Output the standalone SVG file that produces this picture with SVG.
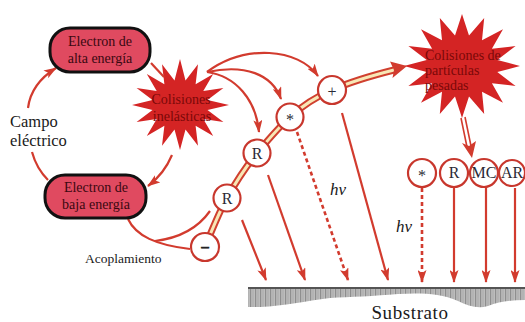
<svg xmlns="http://www.w3.org/2000/svg" width="525" height="322" viewBox="0 0 525 322">
  <defs>
    <marker id="arr" viewBox="0 0 13 9" markerWidth="13" markerHeight="9" refX="12" refY="4.5" orient="auto" markerUnits="userSpaceOnUse">
      <path d="M0,0 L13,4.5 L0,9 L3,4.5 Z" fill="#d23b2e"/>
    </marker>
    <pattern id="stripes" width="5" height="10" patternUnits="userSpaceOnUse">
      <rect width="5" height="10" fill="#bdbdbd"/>
      <rect x="0" width="1.2" height="10" fill="#8e8e8e"/>
      <rect x="2.6" width="0.8" height="10" fill="#a4a4a4"/>
    </pattern>
  </defs>
  <style>
    .t { font-family: "Liberation Serif", "Times New Roman", serif; }
    .node rect { fill: #e04a60; stroke: #111; stroke-width: 3; }
    .node text { fill: #3a0810; font-size: 14px; text-anchor: middle; }
    .star polygon { fill: #d42424; }
    .star text { fill: #7a0808; font-size: 14px; }
    .ln { fill: none; stroke: #d23b2e; stroke-width: 2.2; }
    .dash { stroke-dasharray: 4 3; stroke-width: 2.6; }
    .part circle { fill: #fff; stroke: #c8372d; stroke-width: 2.2; }
    .part text { fill: #2a2a35; font-size: 16px; text-anchor: middle; }
    .lbl { fill: #1a1a1a; }
  </style>

  <rect width="525" height="322" fill="#fff"/>

  <!-- substrate -->
  <g id="substrato">
    <path d="M248,288 L525,288 L525,300 C512,300 500,301 488,306 C478,309 468,306 458,301 C440,293 420,293 398,294 C375,296 350,297 330,298 C305,301 285,306 260,307 L248,307 Z" fill="url(#stripes)"/>
    <line x1="248" y1="288" x2="525" y2="288" stroke="#555" stroke-width="2"/>
    <text class="t lbl" x="410" y="319" font-size="19" text-anchor="middle" letter-spacing="0.6">Substrato</text>
  </g>

  <!-- stars -->
  <g id="colisiones-inelasticas" class="star">
    <polygon points="180,59 185.5,80.5 198,64.3 195.6,84.2 213.2,73.9 203.3,91.1 223.4,88.1 207.5,100.1 229,105 207.5,109.9 223.4,121.9 203.3,118.9 213.2,136.1 195.6,125.8 198,145.7 185.5,129.5 180,150 174.5,129.5 162,145.7 164.4,125.8 146.8,136.1 156.7,118.9 136.6,121.9 152.5,109.9 132,105 152.5,100.1 136.6,88.1 156.7,91.1 146.8,73.9 164.4,84.2 162,64.3 174.5,80.5"/>
    <text class="t" x="181" y="104" text-anchor="middle">Colisiones</text>
    <text class="t" x="182" y="121" text-anchor="middle">inelásticas</text>
  </g>

  <g id="colisiones-pesadas" class="star">
    <polygon points="462,14 469,35.6 484.2,18 482,40.2 503,29.2 491.9,48.8 515.6,46.1 497.3,60 520,66 497.3,72 515.6,85.9 491.9,83.2 503,102.8 482,91.8 484.2,114 469,96.4 462,118 455,96.4 439.8,114 442,91.8 421,102.8 432.1,83.2 408.4,85.9 426.7,72 404,66 426.7,60 408.4,46.1 432.1,48.8 421,29.2 442,40.2 439.8,18 455,35.6"/>
    <text class="t" x="425" y="60" font-size="13">Colisiones de</text>
    <text class="t" x="425" y="75" font-size="13">partículas</text>
    <text class="t" x="425" y="90" font-size="13">pesadas</text>
  </g>

  <!-- connectors -->
  <g id="connectors">
    <!-- electric field cycle -->
    <path class="ln" d="M28,108 C30,92 40,78 56,68" marker-end="url(#arr)"/>
    <path class="ln" d="M32,152 C35,163 40,172 48,180"/>
    <path class="ln" d="M151,63 L164,77"/>
    <path class="ln" d="M172,155 C167,167 160,177 148,186" marker-end="url(#arr)"/>
    <!-- coupling -->
    <path class="ln" d="M128,219 C136,236 156,245 190,249"/>
    <path class="ln" d="M155,241 C180,238 198,228 210,211"/>
    <!-- excitation from inelastic collisions -->
    <path class="ln" d="M207,72 C245,44 298,48 318,76" marker-end="url(#arr)"/>
    <path class="ln" d="M207,72 C245,64 272,74 281,99" marker-end="url(#arr)"/>
    <path class="ln" d="M207,72 C236,76 256,100 259,132" marker-end="url(#arr)"/>
    <!-- particle chain ribbon -->
    <path d="M205,247 C212,230 220,210 227,198 C238,178 245,168 257,153 C268,140 278,128 290,117 C302,106 318,96 332,90 C350,82 370,76 394,70" fill="none" stroke="#d0402f" stroke-width="7"/>
    <path d="M205,247 C212,230 220,210 227,198 C238,178 245,168 257,153 C268,140 278,128 290,117 C302,106 318,96 332,90 C350,82 370,76 394,70" fill="none" stroke="#f8e7b5" stroke-width="3"/>
    <path d="M407,66 L390,61.5 L394,70 L392.5,78 Z" fill="#d23b2e"/>
    <!-- heavy collision products -->
    <path d="M461,118 L467,147 M465,117 L471,146" fill="none" stroke="#d23b2e" stroke-width="1.6"/>
    <path d="M472,158 L462,143 L469,146 L476,141 Z" fill="#d23b2e"/>
    <!-- fluxes to substrate -->
    <path class="ln" d="M242,220 L266,280" marker-end="url(#arr)"/>
    <path class="ln" d="M268,175 L305,280" marker-end="url(#arr)"/>
    <path class="ln dash" d="M297,132 L348,280" marker-end="url(#arr)"/>
    <path class="ln" d="M342,113 L388,280" marker-end="url(#arr)"/>
    <path class="ln dash" d="M422,188 L422,282" marker-end="url(#arr)"/>
    <path class="ln" d="M454,188 L454,282" marker-end="url(#arr)"/>
    <path class="ln" d="M486,188 L486,282" marker-end="url(#arr)"/>
    <path class="ln" d="M515,188 L515,282" marker-end="url(#arr)"/>
  </g>

  <!-- electron states -->
  <g id="electron-alta" class="node">
    <rect x="50" y="28" width="100" height="44" rx="20"/>
    <text class="t" x="100" y="46">Electron de</text>
    <text class="t" x="100" y="63">alta energía</text>
  </g>
  <g id="electron-baja" class="node">
    <rect x="45" y="175" width="101" height="43" rx="20"/>
    <text class="t" x="96" y="192">Electron de</text>
    <text class="t" x="96" y="209">baja energía</text>
  </g>

  <!-- particles -->
  <g id="p-minus" class="part"><circle cx="205" cy="247" r="14"/><text class="t" x="205" y="253" font-size="20" font-weight="bold" stroke="#222" stroke-width="0.8">−</text></g>
  <g id="p-R1" class="part"><circle cx="227" cy="198" r="13.5"/><text class="t" x="227" y="204">R</text></g>
  <g id="p-R2" class="part"><circle cx="257" cy="153" r="13.5"/><text class="t" x="257" y="159">R</text></g>
  <g id="p-star" class="part"><circle cx="290" cy="117" r="13.5"/><text class="t" x="290" y="125">*</text></g>
  <g id="p-plus" class="part"><circle cx="332" cy="90" r="14"/><text class="t" x="332" y="97" font-size="20">+</text></g>

  <g id="s-star" class="part"><circle cx="422" cy="173" r="14"/><text class="t" x="422" y="181">*</text></g>
  <g id="s-R" class="part"><circle cx="454" cy="173" r="14"/><text class="t" x="454" y="178" font-size="14">R</text></g>
  <g id="s-MC" class="part"><circle cx="484" cy="173" r="14"/><text class="t" x="484" y="178" font-size="13">MC</text></g>
  <g id="s-AR" class="part"><circle cx="512" cy="173" r="13"/><text class="t" x="512" y="178" font-size="13">AR</text></g>

  <!-- labels -->
  <text class="t lbl" x="10" y="127" font-size="16.5">Campo</text>
  <text class="t lbl" x="10" y="146" font-size="16.5">eléctrico</text>
  <text class="t lbl" x="85" y="263" font-size="13.5">Acoplamiento</text>
  <text class="t lbl" x="330" y="195" font-size="17" font-style="italic">hν</text>
  <text class="t lbl" x="396" y="232" font-size="17" font-style="italic">hν</text>
</svg>
